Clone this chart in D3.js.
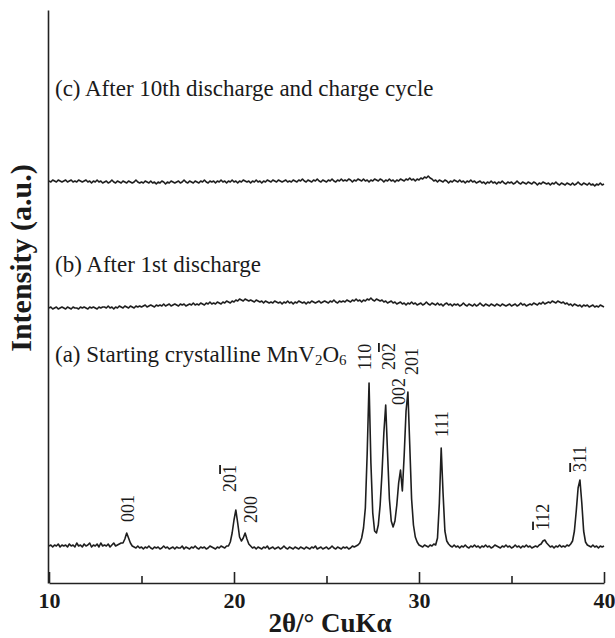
<!DOCTYPE html>
<html>
<head>
<meta charset="utf-8">
<script src="https://cdn.jsdelivr.net/npm/d3@7"></script>
<style>
  body { margin: 0; background: #fff; }
  text { font-family: "Liberation Serif", "Times New Roman", serif; fill: #1a1a1a; }
</style>
</head>
<body>
<div id="chart"></div>
<script>
// XRD patterns, one value every 0.1 deg from 10 to 40 (one row per degree)
var startAngle = 10, angleStep = 0.1;

var traceA = [
  37,38,36,38,37,39,36,38,37,38,
  36,39,37,38,36,40,37,38,36,39,
  37,38,40,36,38,37,39,36,40,37,
  38,37,39,36,38,40,37,38,39,40,
  40,44,50,45,40,37,36,35,37,35,
  36,34,36,35,37,35,34,36,35,36,
  34,35,37,35,36,34,35,36,34,36,
  35,35,37,34,36,35,34,36,35,37,
  35,34,36,35,36,34,35,37,36,35,
  34,36,35,37,36,35,37,37,41,50,
  63,73,60,46,42,45,50,44,39,37,
  35,36,34,36,35,34,36,35,37,34,
  35,36,34,35,36,34,35,37,35,34,
  36,35,34,36,35,34,36,35,34,36,
  35,34,36,35,37,34,35,36,34,35,
  36,34,35,37,35,34,36,35,34,36,
  35,36,34,35,37,36,37,38,40,45,
  55,75,130,200,120,70,52,50,58,78,
  110,150,178,130,84,62,56,62,78,100,
  113,92,128,172,191,138,84,58,46,41,
  38,37,36,38,37,36,38,37,39,38,
  45,80,135,90,52,42,39,37,36,38,
  36,37,35,37,36,38,36,35,37,36,
  38,36,37,35,37,36,38,36,37,35,
  36,38,37,36,35,37,36,38,36,37,
  35,36,38,36,37,35,37,36,38,36,
  37,35,36,37,36,38,39,42,43,40,
  38,36,37,35,37,36,38,36,37,36,
  38,37,39,42,52,72,95,103,80,52,
  41,38,37,36,38,36,37,35,37,36,
  37
];

var traceB = [
  275,276,274,275,276,274,275,276,275,274,
  276,275,274,276,275,275,274,276,275,276,
  275,274,276,275,276,275,274,276,275,276,
  276,275,277,275,276,274,276,275,277,276,
  275,277,276,275,277,276,275,277,276,277,
  276,277,278,276,277,278,277,276,278,277,
  278,277,279,277,278,279,277,278,279,278,
  277,279,278,279,277,278,279,278,280,278,
  279,278,280,279,278,280,279,281,279,280,
  279,281,280,279,281,280,282,281,280,282,
  281,283,282,284,283,282,284,283,282,283,
  282,281,283,282,281,282,280,282,281,280,
  281,280,282,281,280,281,279,281,280,282,
  280,281,279,281,280,282,281,280,281,279,
  281,280,282,281,280,281,282,280,281,282,
  281,280,282,281,283,281,280,282,281,282,
  281,283,282,281,283,282,284,282,283,281,
  283,282,284,283,285,283,282,284,283,282,
  283,281,282,280,281,282,280,281,279,280,
  281,279,280,278,280,279,281,279,280,278,
  279,280,278,279,281,279,278,280,279,278,
  280,278,279,277,279,280,278,279,277,279,
  278,279,277,278,280,278,277,279,278,277,
  279,277,278,280,278,277,279,278,277,279,
  278,277,279,278,277,279,278,277,278,279,
  277,278,279,277,278,280,278,279,277,278,
  279,278,280,279,278,280,279,281,279,280,
  281,280,282,281,280,282,281,280,281,279,
  280,278,279,277,279,278,277,278,276,278,
  277,278,276,277,278,276,277,276,278,277,
  276
];

var traceC = [
  402,401,403,402,401,403,402,401,402,403,
  401,402,403,401,402,401,403,402,401,402,
  403,401,402,400,402,401,403,401,402,400,
  401,402,400,401,403,401,400,402,401,400,
  402,401,400,402,401,400,401,403,401,400,
  401,400,402,401,400,402,400,401,399,401,
  400,402,401,399,401,400,402,401,400,401,
  402,400,401,403,401,400,402,401,400,402,
  401,400,402,401,403,401,400,402,401,402,
  400,402,401,403,401,402,400,402,401,403,
  401,402,400,402,401,403,402,401,402,400,
  402,401,403,401,402,400,402,401,403,402,
  401,403,402,401,403,402,401,402,403,401,
  402,401,403,402,401,403,402,404,402,401,
  403,402,401,403,402,404,402,401,403,402,
  401,403,402,404,402,401,403,402,404,402,
  403,402,404,403,401,403,402,404,403,402,
  404,402,403,401,403,402,404,403,402,404,
  403,401,403,402,404,402,403,401,403,402,
  404,403,402,404,403,405,403,404,402,404,
  403,405,404,406,405,407,405,404,402,403,
  401,403,402,401,403,402,400,402,401,403,
  402,401,403,401,402,400,402,401,403,401,
  402,400,401,402,400,401,399,401,400,402,
  400,401,399,401,400,402,400,399,401,400,
  401,399,400,402,400,399,401,400,399,401,
  400,399,401,400,398,400,399,401,400,399,
  400,398,400,399,401,399,398,400,399,398,
  400,399,398,400,398,399,401,399,398,400,
  399,398,400,398,399,397,399,398,400,398,
  399
];

// Miller indices of pattern (a): label text, barred digit index (-1 none), peak angle
var peakHkl    = ["001", "201", "200", "110", "202", "002", "201", "111", "112", "311"];
var peakBar    = [-1, 2, -1, -1, 2, -1, -1, -1, 0, 0];
var peakAngles = [14.2, 20.1, 20.6, 27.3, 28.2, 29.0, 29.4, 31.2, 36.8, 38.7];

var majorTicks = [10, 20, 30, 40];
var minorTicks = [15, 25, 35];

var svg = d3.select("#chart")
    .append("svg")
    .attr("width", 615)
    .attr("height", 638);

var x = d3.scaleLinear().domain([10, 40]).range([49, 604]);
var y = d3.scaleLinear().domain([0, 573]).range([583, 10]);

var line = d3.line()
    .x(function(d, i) { return x(startAngle + i * angleStep); })
    .y(function(d) { return y(d); });

[traceA, traceB, traceC].forEach(function(t) {
  svg.append("path")
      .datum(t)
      .attr("fill", "none")
      .attr("stroke", "#1e1e1e")
      .attr("stroke-width", 1.6)
      .attr("stroke-linejoin", "round")
      .attr("d", line);
});

// x axis: major ticks with labels, minor ticks shorter, all pointing inward
var gx = svg.append("g")
    .attr("transform", "translate(0,583)")
    .call(d3.axisBottom(x).tickValues(majorTicks).tickSizeInner(-11).tickSizeOuter(0)
      .tickPadding(9).tickFormat(d3.format("d")));
gx.selectAll("text")
    .attr("font-size", 22)
    .attr("font-weight", "bold")
    .style("font-family", "'Liberation Serif', serif");
svg.append("g")
    .attr("transform", "translate(0,583)")
    .call(d3.axisBottom(x).tickValues(minorTicks).tickSizeInner(-7).tickSizeOuter(0)
      .tickFormat(""))
    .select(".domain").remove();

var gy = svg.append("g")
    .attr("transform", "translate(48,0)")
    .call(d3.axisLeft(y).tickValues([]).tickSizeOuter(0));

svg.selectAll(".domain, .tick line")
    .attr("stroke", "#222")
    .attr("stroke-width", 1.6);

// axis titles
svg.append("text")
    .attr("x", 330)
    .attr("y", 632)
    .attr("text-anchor", "middle")
    .attr("font-size", 27)
    .attr("font-weight", "bold")
    .text("2θ/° CuKα");

svg.append("text")
    .attr("transform", "translate(31,258) rotate(-90)")
    .attr("text-anchor", "middle")
    .attr("font-size", 30)
    .attr("font-weight", "bold")
    .text("Intensity (a.u.)");

// pattern captions
svg.append("text").attr("x", 55).attr("y", 96).attr("font-size", 23)
    .text("(c) After 10th discharge and charge cycle");
svg.append("text").attr("x", 55).attr("y", 272).attr("font-size", 23)
    .text("(b) After 1st discharge");
var capA = svg.append("text").attr("x", 55).attr("y", 362).attr("font-size", 23);
capA.append("tspan").text("(a) Starting crystalline MnV");
capA.append("tspan").attr("font-size", 15).attr("dy", 3).text("2");
capA.append("tspan").attr("dy", -3).text("O");
capA.append("tspan").attr("font-size", 15).attr("dy", 3).text("6");

// peak labels, rotated, sitting above their peaks
var labelShift = [1, -6, 6, -4, 3, -2, 4, 0, -2, 0];
var labelGap   = [11, 18, 10, 13, 35, 65, 17, 11, 10, 8];
peakAngles.forEach(function(a, k) {
  var i = Math.round((a - startAngle) / angleStep);
  var px = x(a) + labelShift[k];
  var py = y(traceA[i]) - labelGap[k];
  var t = svg.append("text")
      .attr("transform", "translate(" + px + "," + py + ") rotate(-90)")
      .attr("dy", "0.35em")
      .attr("font-size", 18);
  peakHkl[k].split("").forEach(function(ch, j) {
    var s = t.append("tspan").text(ch);
    if (j === peakBar[k]) s.style("text-decoration", "overline");
  });
});
</script>
</body>
</html>
